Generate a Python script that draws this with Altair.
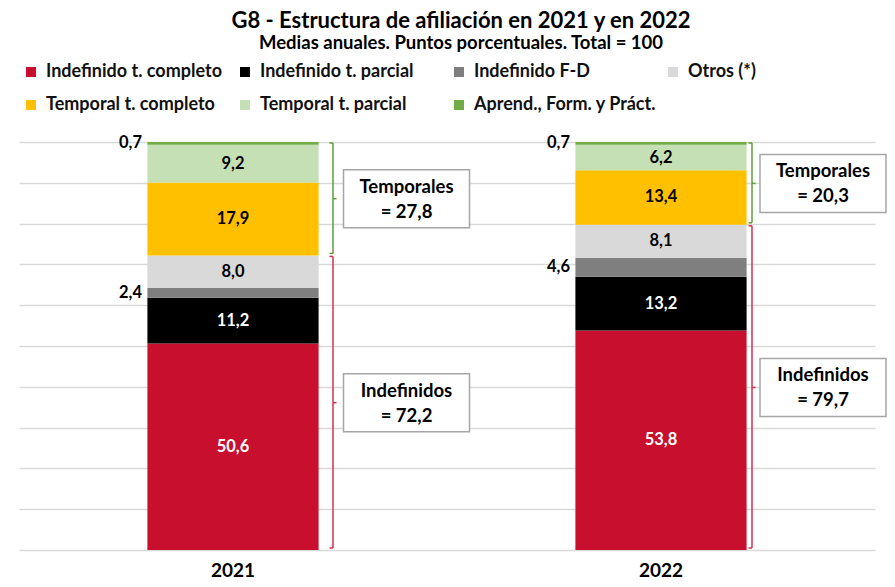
import pandas as pd
import altair as alt


# ── Data ───────────────────────────────────────────────────────────────────────

YEARS = ['2021', '2022']
CATEGORIES = [
    'Indefinido t. completo',
    'Indefinido t. parcial',
    'Indefinido F-D',
    'Otros (*)',
    'Temporal t. completo',
    'Temporal t. parcial',
    'Aprend., Form. y Práct.',
]
VALUES_2021 = [50.6, 11.2, 2.4, 8.0, 17.9, 9.2, 0.7]
VALUES_2022 = [53.8, 13.2, 4.6, 8.1, 13.4, 6.2, 0.7]
GROUPS = ['Indefinidos'] * 4 + ['Temporales'] * 3

BAR_COLORS  = ['#C8102E', '#000000', '#7F7F7F', '#D9D9D9', '#FFC000', '#C5E0B4', '#70AD47']
TEXT_COLORS = ['#FFFFFF', '#FFFFFF', '#000000', '#000000', '#000000', '#000000', '#000000']
GROUP_COLORS = {'Indefinidos': '#D2304E', 'Temporales': '#5E9E3A'}

# pixel offsets of bracket and note box from the bar centre, per year
BRACKET_OFFSET = {'2021': 100, '2022': 91}
BOX_OFFSET     = {'2021': 173.5, '2022': 162}

FONT = 'Lato'


def fmt(v: float) -> str:
    return f'{v:.1f}'.replace('.', ',')


rows = []
for year, vals in zip(YEARS, [VALUES_2021, VALUES_2022]):
    for k, (cat, v) in enumerate(zip(CATEGORIES, vals)):
        rows.append(dict(year=year, cat=cat, k=k, value=v, group=GROUPS[k],
                         label=fmt(v), tcol=TEXT_COLORS[k]))
df = pd.DataFrame(rows)

# bracket extents per year and group
br = []
for year, g in df.groupby('year'):
    g = g.sort_values('k')
    g = g.assign(hi=g['value'].cumsum())
    g = g.assign(lo=g['hi'] - g['value'])
    for grp, gg in g.groupby('group', sort=False):
        lo, hi = gg['lo'].min(), gg['hi'].max()
        total = gg['value'].sum()
        br.append(dict(year=year, group=grp, lo=lo, hi=hi, mid=(lo + hi) / 2,
                       bcol=GROUP_COLORS[grp], note=f'{grp}\n= {fmt(total)}'))
brackets = pd.DataFrame(br)


# ── Chart ──────────────────────────────────────────────────────────────────────

x_enc = alt.X(
    'year:N', title=None, sort=YEARS,
    scale=alt.Scale(paddingInner=0.6, paddingOuter=0.3),
    axis=alt.Axis(domain=False, ticks=False, labelAngle=0, labelFont=FONT,
                  labelFontSize=19, labelFontWeight='bold', labelColor='black',
                  labelPadding=11),
)

bars = alt.Chart(df).mark_bar().encode(
    x=x_enc,
    y=alt.Y('value:Q', stack='zero', title=None,
            scale=alt.Scale(domain=[0, 100], nice=False),
            axis=alt.Axis(values=list(range(0, 101, 10)), labels=False, ticks=False,
                          domain=False, gridColor='#D9D9D9', gridWidth=1.5)),
    color=alt.Color(
        'cat:N',
        scale=alt.Scale(domain=CATEGORIES, range=BAR_COLORS),
        legend=alt.Legend(
            orient='none', legendX=3, legendY=-79, direction='horizontal',
            columns=4, title=None, symbolType='square', symbolSize=100,
            symbolStrokeWidth=0, labelFont=FONT, labelFontSize=18,
            labelFontWeight='bold', labelColor='#111111', labelOffset=6,
            labelLimit=300, gridAlign='all', columnPadding=7, rowPadding=15,
        ),
    ),
    order=alt.Order('k:Q', sort='ascending'),
)

stacked = alt.Chart(df).transform_stack(
    stack='value', groupby=['year'], sort=[alt.SortField('k', order='ascending')],
    as_=['lo', 'hi'],
).transform_calculate(mid='(datum.lo + datum.hi) / 2')

inside = stacked.transform_filter('datum.value >= 5').mark_text(
    font=FONT, fontSize=16.5, fontWeight='bold',
).encode(
    x='year:N', y=alt.Y('mid:Q', title=None), text='label:N',
    fill=alt.Fill('tcol:N', scale=None),
)

outside = stacked.transform_filter('datum.value < 5').mark_text(
    font=FONT, fontSize=16.5, fontWeight='bold', align='right', xOffset=-91,
    color='black',
).encode(x='year:N', y=alt.Y('mid:Q', title=None), text='label:N')

layers = [bars, inside, outside]

for year in YEARS:
    bd = brackets[brackets['year'] == year]
    off = BRACKET_OFFSET[year]
    base = alt.Chart(bd)
    stroke = alt.Stroke('bcol:N', scale=None)
    layers.append(base.mark_rule(xOffset=off, strokeWidth=1.5, yOffset=-2, y2Offset=1).encode(
        x='year:N', y=alt.Y('lo:Q', title=None), y2='hi:Q', stroke=stroke))
    layers.append(base.mark_point(shape='M -1 0 H 0', size=49, filled=False, opacity=1,
                                  strokeWidth=1.5, xOffset=off, yOffset=-2).encode(
        x='year:N', y=alt.Y('lo:Q', title=None), stroke=stroke))
    layers.append(base.mark_point(shape='M -1 0 H 0', size=49, filled=False, opacity=1,
                                  strokeWidth=1.5, xOffset=off, yOffset=1).encode(
        x='year:N', y=alt.Y('hi:Q', title=None), stroke=stroke))
    layers.append(base.mark_point(shape='M 0 0 H 1', size=49, filled=False, opacity=1,
                                  strokeWidth=1.5, xOffset=off).encode(
        x='year:N', y=alt.Y('mid:Q', title=None), stroke=stroke))
    layers.append(base.mark_point(shape='M -1 -0.46 H 1 V 0.46 H -1 Z', size=126 ** 2,
                                  filled=True, fill='white', stroke='#A6A6A6',
                                  strokeWidth=1.5, opacity=1, xOffset=BOX_OFFSET[year]).encode(
        x='year:N', y=alt.Y('mid:Q', title=None)))
    layers.append(base.mark_text(font=FONT, fontSize=18.5, fontWeight='bold', lineBreak='\n',
                                 lineHeight=25, color='black', xOffset=BOX_OFFSET[year],
                                 yOffset=-12).encode(
        x='year:N', y=alt.Y('mid:Q', title=None), text='note:N'))

chart = alt.layer(*layers).properties(
    width=856,
    height=408,
    autosize=alt.AutoSizeParams(type='none'),
    padding={'left': 11, 'top': 134, 'right': 12, 'bottom': 29},
    title=alt.TitleParams(
        text='G8 - Estructura de afiliación en 2021 y en 2022',
        subtitle='Medias anuales. Puntos porcentuales. Total = 100',
        font=FONT, fontSize=22, fontWeight='bold', color='black', lineHeight=22,
        subtitleFont=FONT, subtitleFontSize=18.5, subtitleFontWeight='bold',
        subtitleColor='black', subtitlePadding=1, subtitleLineHeight=19,
        anchor='middle', dx=14, offset=10,
    ),
).configure_view(stroke=None)

chart.save('out.html', embed_options={'renderer': 'svg', 'actions': False})
